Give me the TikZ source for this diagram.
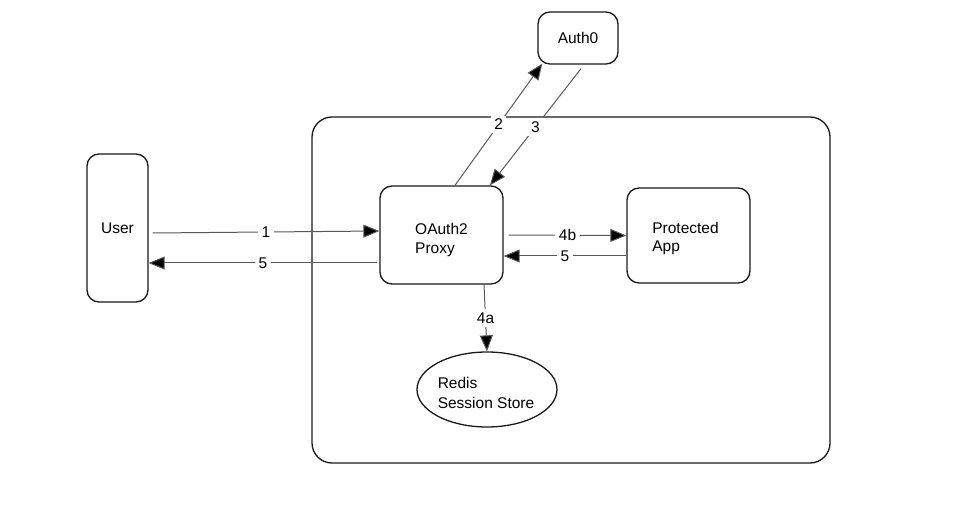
\documentclass[tikz,border=0pt]{standalone}
\usepackage{fontspec}
\setmainfont{Liberation Sans}
\usetikzlibrary{arrows.meta,calc,shapes.geometric}
\tikzset{
  box/.style={draw=black!90, line width=1.3pt, rounded corners=12pt, inner sep=0pt, align=left, font=\fontsize{15.5}{18.5}\selectfont},
  flow/.style={draw=black!65, line width=1pt, -{Triangle[length=16pt,width=13pt,fill=black]}},
  lbl/.style={fill=white, inner sep=4pt, font=\fontsize{15.5}{18}\selectfont, text=black}
}
\begin{document}
\begin{tikzpicture}[x=1pt,y=-1pt]
\useasboundingbox (0,0) rectangle (959,521);
\draw[draw=black!90, line width=1.3pt, rounded corners=20pt] (312,117) rectangle (830,463);
\node[box, minimum width=61pt, minimum height=148pt] (user) at (117.5,228) {User};
\node[box, minimum width=123pt, minimum height=98pt] (proxy) at (441.5,235) {};
\node[align=left, font=\fontsize{15.5}{18.5}\selectfont] (proxytext) at (441.5,240) {OAuth2\\Proxy};
\node[box, minimum width=123pt, minimum height=95pt] (app) at (688.5,235.5) {};
\node[align=left, font=\fontsize{15.5}{18.5}\selectfont] (apptext) at (685.5,238.5) {Protected\\App};
\node[box, minimum width=80pt, minimum height=52pt] (auth) at (578,38) {Auth0};
\node[ellipse, draw=black!90, line width=1.3pt, minimum width=140pt, minimum height=75pt, inner sep=0pt] (redis) at (487,389.5) {};
\node[align=left, font=\fontsize{15.5}{20}\selectfont] (redistext) at (486,392.5) {Redis\\Session Store};

\draw[flow] ($(user.east)+(4,5)$) -- node[lbl]{1} ($(proxy.west)+(0,-4)$);
\draw[flow] ($(proxy.west)+(-2,28)$) -- node[lbl]{5} ($(user.east)+(0,35)$);
\draw[flow] ($(proxy.north)+(13.5,0)$) -- node[lbl, pos=0.5, inner sep=3.5pt]{2} ($(auth.south west)+(5,-1)$);
\draw[flow] ($(auth.south)+(3,4)$) -- node[lbl, pos=0.5, inner sep=3.5pt]{3} ($(proxy.north)+(48.5,0)$);
\draw[flow] ($(proxy.east)+(5,0)$) -- node[lbl]{4b} (app.west);
\draw[flow] ($(app.west)+(0,20.5)$) -- node[lbl]{5} ($(proxy.east)+(0,21)$);
\draw[flow] ($(proxy.south)+(42.5,0)$) -- node[lbl]{4a} (redis.north);
\end{tikzpicture}
\end{document}
